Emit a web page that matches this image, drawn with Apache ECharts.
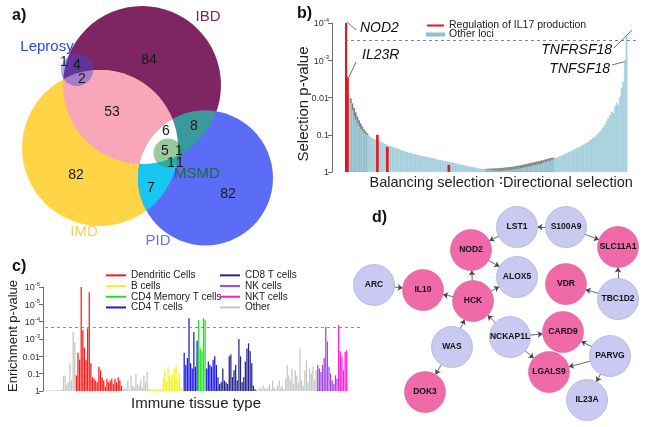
<!DOCTYPE html>
<html><head><meta charset="utf-8">
<script src="https://cdn.jsdelivr.net/npm/echarts@6/dist/echarts.min.js"></script>
<style>html,body{margin:0;padding:0;background:#fff}#c{width:647px;height:427px}</style>
</head><body><div id="c"></div>
<script>
// ===== Panel a: Venn diagram =====
const vennSets = ['IBD', 'IMD', 'PID', 'Leprosy', 'MSMD'];
const vennCenterX = [142, 100, 205.5, 77, 168];
const vennCenterY = [85, 148, 178, 70, 153];
const vennRadius = [79, 78, 67.5, 16, 14.5];
const vennRegions = [['IBD', 'IMD'], ['IBD', 'PID'], ['IMD', 'PID'], ['IBD', 'IMD', 'PID']];
const vennCounts = [84, 53, 82, 82, 8, 6, 5, 1, 1, 1, 7, 1, 4, 2];
const vennCountX = [149, 112, 76, 228, 194, 166, 165, 179, 171, 180, 151, 64, 77, 82];
const vennCountY = [60, 112, 175, 194, 126, 131, 151, 151, 163, 163, 188, 62, 65, 79];
const vennSetLabelX = [208, 84, 158, 47, 197];
const vennSetLabelY = [17, 232, 241, 47, 174];

// ===== Panel b: selection p-values (-log10 p) =====
const selectionNegLog10P = [
  4.0, 2.55, 2.08, 1.86, 1.66, 1.5, 1.4, 1.31, 1.23, 1.16,
  1.11, 1.06, 1.03, 0.99, 0.97, 0.93, 0.91, 0.88, 0.86, 0.85,
  0.82, 0.8, 0.79, 0.76, 0.75, 0.72, 0.7, 0.69, 0.67, 0.65,
  0.64, 0.62, 0.61, 0.59, 0.58, 0.56, 0.55, 0.53, 0.52, 0.51,
  0.49, 0.48, 0.47, 0.46, 0.45, 0.44, 0.43, 0.42, 0.41, 0.4,
  0.39, 0.38, 0.37, 0.36, 0.35, 0.34, 0.33, 0.32, 0.31, 0.3,
  0.29, 0.28, 0.27, 0.26, 0.25, 0.245, 0.235, 0.225, 0.215, 0.2,
  0.19, 0.18, 0.175, 0.165, 0.155, 0.145, 0.135, 0.125, 0.115, 0.105,
  0.095, 0.09, 0.085, 0.075, 0.07, 0.065, 0.06, 0.055, 0.05, 0.045,
  0.04, 0.035, 0.03,
  0.03, 0.035, 0.04, 0.045, 0.05, 0.055, 0.06,
  0.065, 0.07, 0.08, 0.085, 0.09, 0.1, 0.11, 0.12, 0.13, 0.14,
  0.15, 0.16, 0.17, 0.18, 0.19, 0.2, 0.21, 0.22, 0.24, 0.25,
  0.27, 0.28, 0.3, 0.31, 0.33, 0.34, 0.36, 0.38, 0.4, 0.42,
  0.44, 0.46, 0.48, 0.5, 0.52, 0.55, 0.57, 0.59, 0.61, 0.64,
  0.66, 0.68, 0.71, 0.73, 0.76, 0.78, 0.81, 0.85, 0.88, 0.92,
  0.95, 0.99, 1.04, 1.08, 1.14, 1.2, 1.27, 1.36, 1.44, 1.52,
  1.62, 1.58, 1.76, 1.86, 1.8, 2.02, 2.24, 2.42, 3.0, 3.65
];
const il17LocusIndex = [0, 1, 19, 25, 62];
const il17NegLog10P = [4.0, 2.55, 1.0, 0.67, 0.19];
const expectedLeftStart = 3;
const expectedLeft = [1.98, 1.84, 1.72, 1.6, 1.49, 1.39, 1.3, 1.22, 1.15, 1.09, 1.04];
const expectedRightStart = 84;
const expectedRight = [
  0.085, 0.085, 0.09, 0.09, 0.095, 0.095, 0.1, 0.1, 0.105, 0.11,
  0.11, 0.115, 0.12, 0.125, 0.13, 0.135, 0.14, 0.15, 0.155, 0.165,
  0.17, 0.18, 0.19, 0.2, 0.21, 0.22, 0.23, 0.24, 0.25, 0.26,
  0.27, 0.28, 0.29, 0.3, 0.31, 0.32, 0.335, 0.345, 0.36, 0.37,
  0.38, 0.39
];
const selectionThreshold = 3.54;
const selectionTickLabels = ['1', '0.1', '0.01', '10^-3', '10^-4'];
const selectionGenes = ['NOD2', 'IL23R', 'TNFRSF18', 'TNFSF18'];

// ===== Panel c: enrichment p-values by immune tissue (-log10 p) =====
const tissueGroups = ['Dendritic Cells', 'B cells', 'CD4 Memory T cells', 'CD4 T cells', 'CD8 T cells', 'NK cells', 'NKT cells', 'Other'];
const tissueSegmentGroup = ['Other', 'Dendritic Cells', 'Other', 'B cells', 'CD4 T cells', 'CD4 Memory T cells', 'CD4 T cells', 'CD8 T cells', 'Other', 'NK cells', 'NKT cells'];
const tissueSegmentValues = [
  [0.03, 0.04, 0.03, 0.05, 0.04, 0.03, 0.05, 0.04, 0.06, 0.05, 0.07, 0.85, 0.9, 0.35, 0.5, 1.6, 0.6, 3.4, 2.8],
  [0.9, 2.2, 1.8, 6.05, 3.5, 2.5, 1.8, 3.6, 5.7, 1.6, 0.8, 0.7, 0.6, 0.5, 1.4, 1.2, 0.8, 0.6, 0.25, 0.7, 0.5, 0.6, 0.7, 0.4, 0.7, 0.5, 0.8, 0.6, 0.3],
  [0.1, 0.2, 0.15, 0.6, 0.1, 0.9, 0.3, 0.2, 1.0, 0.4, 0.3, 0.6, 0.2, 0.9, 0.5, 1.1, 0.15],
  [0.1, 0.08, 0.1, 0.12, 0.1, 0.08, 0.1, 0.12, 0.8, 1.2, 0.6, 1.4, 0.9, 0.7, 1.0, 1.3, 1.5, 0.8, 1.0, 0.2, 0.05],
  [2.2, 1.5, 1.9, 4.2, 1.6, 1.3, 3.4, 1.4, 2.9],
  [4.1, 2.45, 2.3, 4.2, 4.1],
  [1.3, 1.7, 1.5, 1.4, 1.8, 2.0, 1.5],
  [0.8, 0.4, 0.5, 1.3, 0.6, 0.5, 0.4, 2.0, 2.1, 0.8, 1.2, 1.5, 0.6, 3.0, 2.0, 0.5, 0.8, 1.7, 2.45, 2.75, 2.3, 1.6, 0.3, 0.1],
  [0.1, 0.05, 0.2, 0.1, 0.3, 0.15, 0.1, 0.2, 0.4, 0.1, 0.6, 0.2, 0.1, 0.3, 0.6, 0.2, 0.3, 0.1, 0.7, 1.5, 0.9, 0.6, 1.3, 0.4, 1.2, 0.9, 0.5, 2.45, 0.6, 0.3, 1.2, 1.75, 0.5, 1.3, 1.0, 1.4, 0.6, 1.2],
  [1.5, 1.3, 1.1, 1.5, 1.9, 3.7, 2.85, 1.4, 1.0, 0.6, 0.4, 0.9, 0.7],
  [3.8, 2.3, 2.0, 1.2, 2.25, 2.35]
];
const enrichmentThreshold = 3.66;
const enrichmentTickLabels = ['1', '0.1', '0.01', '10^-3', '10^-4', '10^-5', '10^-6'];

// ===== Panel d: gene network =====
const geneNames = ['LST1', 'S100A9', 'SLC11A1', 'NOD2', 'ALOX5', 'VDR', 'TBC1D2', 'ARC', 'IL10', 'HCK', 'NCKAP1L', 'CARD9', 'WAS', 'PARVG', 'LGALS9', 'DOK3', 'IL23A'];
const geneIL17 = [0, 0, 1, 1, 0, 1, 0, 0, 1, 1, 0, 1, 0, 0, 1, 1, 0];
const geneLayoutX = [517, 566, 618, 471, 517, 566, 618, 374, 423, 473, 510, 563, 452, 610, 549, 425, 587];
const geneLayoutY = [227, 227, 247, 250, 277, 284, 299, 285, 290, 301, 337, 332, 347, 356, 372, 392, 400];
const geneLinks = [
  ['S100A9', 'LST1'], ['LST1', 'NOD2'], ['S100A9', 'SLC11A1'], ['NOD2', 'ALOX5'], ['HCK', 'NOD2'],
  ['HCK', 'ALOX5'], ['ARC', 'IL10'], ['HCK', 'IL10'], ['TBC1D2', 'SLC11A1'], ['TBC1D2', 'VDR'],
  ['WAS', 'HCK'], ['NCKAP1L', 'HCK'], ['WAS', 'DOK3'], ['NCKAP1L', 'CARD9'], ['NCKAP1L', 'LGALS9'],
  ['PARVG', 'CARD9'], ['PARVG', 'LGALS9'], ['PARVG', 'IL23A']
];

// ===== styles =====
const F = "'Liberation Sans', Arial, Helvetica, sans-serif";
const vennFill = {IBD: '#7e2563', IMD: '#ffd447', PID: '#5b6cf6', Leprosy: 'rgba(60,70,225,0.45)', MSMD: 'rgba(50,150,60,0.5)'};
const vennRegionFill = ['#f8a6b8', '#3a9a9b', '#17c6f2', '#ffffff'];
const vennLabelColor = ['#7e2563', '#f8cf5c', '#6676f2', '#2f46e6', '#1f6a3a'];
const tissueColors = {'Dendritic Cells': '#ff1a1a', 'B cells': '#f4f421', 'CD4 Memory T cells': '#22e022', 'CD4 T cells': '#1a1ae6', 'CD8 T cells': '#23238a', 'NK cells': '#a443ea', 'NKT cells': '#ff1ad9', 'Other': '#c6c6c6'};

function tickRich(label) {
  const p = label.split('^');
  return p.length > 1 ? '{b|' + p[0] + '}{s|' + p[1] + '}' : '{b|' + p[0] + '}';
}
const tickRichStyle = {
  b: {fontSize: 9, color: '#333', fontFamily: F, verticalAlign: 'bottom', lineHeight: 11},
  s: {fontSize: 6, color: '#333', fontFamily: F, verticalAlign: 'bottom', padding: [0, 0, 5, 0], lineHeight: 11}
};

function setIndex(name) { return vennSets.indexOf(name); }
function intersectionPolygon(members) {
  const pts = [];
  members.forEach(i => {
    for (let k = 0; k < 720; k++) {
      const a = k * Math.PI / 360;
      const x = vennCenterX[i] + vennRadius[i] * Math.cos(a);
      const y = vennCenterY[i] + vennRadius[i] * Math.sin(a);
      if (members.every(j => j === i || Math.hypot(x - vennCenterX[j], y - vennCenterY[j]) <= vennRadius[j] + 1e-6)) pts.push([x, y]);
    }
  });
  let mx = 0, my = 0;
  pts.forEach(p => { mx += p[0]; my += p[1]; });
  mx /= pts.length; my /= pts.length;
  pts.sort((p, q) => Math.atan2(p[1] - my, p[0] - mx) - Math.atan2(q[1] - my, q[0] - mx));
  return pts;
}
function circleItem(idx, api) {
  const c = api.coord([vennCenterX[idx], vennCenterY[idx]]);
  const r = api.size([vennRadius[idx], 0])[0];
  return {type: 'circle', shape: {cx: c[0], cy: c[1], r: r}, style: {fill: vennFill[vennSets[idx]]}};
}

// ===== panel b data =====
const bCategories = Array.from({length: selectionNegLog10P.length + 7}, (_, i) => 'locus ' + (i + 1));
const il17Data = il17LocusIndex.map((c, i) => [c, il17NegLog10P[i]]);
const expectedData = expectedLeft.map((v, i) => [expectedLeftStart + i, v]).concat(expectedRight.map((v, i) => [expectedRightStart + i, v]));

// ===== panel c data =====
const tissueTotal = tissueSegmentValues.reduce((s, a) => s + a.length, 0);
const cCategories = Array.from({length: tissueTotal + 9}, (_, i) => 'tissue ' + (i + 1));
const tissueBarData = [];
tissueSegmentValues.forEach((vals, s) => {
  vals.forEach(v => tissueBarData.push({value: v, itemStyle: {color: tissueColors[tissueSegmentGroup[s]]}}));
});
// legend-only entries for tissue groups
const tissueLegendSeries = tissueGroups.map(g => ({
  name: g, type: 'line', xAxisIndex: 2, yAxisIndex: 2, data: [],
  itemStyle: {color: tissueColors[g]}, lineStyle: {color: tissueColors[g]}
}));

// ===== panel d data =====
const nodeData = geneNames.map((n, i) => ({
  name: n, value: [geneLayoutX[i], geneLayoutY[i]],
  itemStyle: {color: geneIL17[i] ? '#f06aa8' : '#c9c9f2', borderColor: geneIL17[i] ? '#d9609a' : '#a5a5cf', borderWidth: 0.6}
}));
const linkData = geneLinks.map(l => ({source: l[0], target: l[1]}));

const option = {
  animation: false,
  backgroundColor: '#fff',
  grid: [
    {left: 0, top: 0, width: 647, height: 427},
    {left: 345, top: 23, width: 294, height: 149},
    {left: 45, top: 287, width: 317, height: 104}
  ],
  xAxis: [
    {gridIndex: 0, type: 'value', min: 0, max: 647, show: false},
    {gridIndex: 1, type: 'category', data: bCategories, show: false},
    {gridIndex: 2, type: 'category', data: cCategories, show: false},
    {gridIndex: 1, type: 'category', data: bCategories, show: false},
    {gridIndex: 1, type: 'category', data: bCategories, show: false}
  ],
  yAxis: [
    {gridIndex: 0, type: 'value', min: 0, max: 427, inverse: true, show: false},
    {gridIndex: 1, type: 'value', min: 0, max: 4, interval: 1, offset: 13,
      axisLine: {show: true, lineStyle: {color: '#444', width: 0.8}},
      axisTick: {show: true, length: 4, lineStyle: {color: '#444', width: 0.8}},
      splitLine: {show: false},
      axisLabel: {margin: 3, formatter: v => tickRich(selectionTickLabels[v]), rich: tickRichStyle}},
    {gridIndex: 2, type: 'value', min: 0, max: 6, interval: 1, offset: 2,
      axisLine: {show: true, lineStyle: {color: '#444', width: 0.8}},
      axisTick: {show: true, length: 4, lineStyle: {color: '#444', width: 0.8}},
      splitLine: {show: false},
      axisLabel: {margin: 3, formatter: v => tickRich(enrichmentTickLabels[v]), rich: tickRichStyle}}
  ],
  legend: [
    {data: ['Regulation of IL17 production', 'Other loci'], orient: 'vertical', left: 421, top: 15,
      itemWidth: 17, itemHeight: 2, itemGap: -2, icon: 'rect',
      textStyle: {fontSize: 10.5, color: '#222', fontFamily: F, lineHeight: 11}, selectedMode: false},
    {data: tissueGroups.slice(0, 4), orient: 'vertical', left: 101, top: 265,
      itemWidth: 20, itemHeight: 2, itemGap: 0, icon: 'rect',
      textStyle: {fontSize: 10, color: '#222', fontFamily: F, lineHeight: 10.7}, selectedMode: false},
    {data: tissueGroups.slice(4), orient: 'vertical', left: 215, top: 265,
      itemWidth: 20, itemHeight: 2, itemGap: 0, icon: 'rect',
      textStyle: {fontSize: 10, color: '#222', fontFamily: F, lineHeight: 10.7}, selectedMode: false}
  ],
  series: [
    // Venn main circles
    {type: 'custom', xAxisIndex: 0, yAxisIndex: 0, z: 1, silent: true,
      data: [[0, 0], [1, 0], [2, 0]],
      renderItem: (params, api) => circleItem(params.dataIndex, api)},
    // Venn overlaps
    {type: 'custom', xAxisIndex: 0, yAxisIndex: 0, z: 2, silent: true,
      data: vennRegions.map((r, i) => [i, 0]),
      renderItem: (params, api) => {
        const members = vennRegions[params.dataIndex].map(setIndex);
        const pts = intersectionPolygon(members).map(p => api.coord(p));
        return {type: 'polygon', shape: {points: pts}, style: {fill: vennRegionFill[params.dataIndex]}};
      }},
    // small translucent sets
    {type: 'custom', xAxisIndex: 0, yAxisIndex: 0, z: 3, silent: true,
      data: [[3, 0], [4, 0]],
      renderItem: (params, api) => circleItem(3 + params.dataIndex, api)},
    // Venn counts
    {type: 'custom', xAxisIndex: 0, yAxisIndex: 0, z: 4, silent: true,
      data: vennCounts.map((c, i) => [vennCountX[i], vennCountY[i]]),
      renderItem: (params, api) => {
        const p = api.coord([api.value(0), api.value(1)]);
        return {type: 'text', x: p[0], y: p[1], style: {text: String(vennCounts[params.dataIndex]), fill: '#1a1a1a',
          font: '14px ' + F, align: 'center', verticalAlign: 'middle', textAlign: 'center', textVerticalAlign: 'middle'}};
      }},
    // Venn set names
    {type: 'custom', xAxisIndex: 0, yAxisIndex: 0, z: 4, silent: true,
      data: vennSets.map((s, i) => [vennSetLabelX[i], vennSetLabelY[i]]),
      renderItem: (params, api) => {
        const p = api.coord([api.value(0), api.value(1)]);
        return {type: 'text', x: p[0], y: p[1], style: {text: vennSets[params.dataIndex], fill: vennLabelColor[params.dataIndex],
          font: '15px ' + F, align: 'center', verticalAlign: 'middle', textAlign: 'center', textVerticalAlign: 'middle'}};
      }},
    // Panel b
    {name: 'expected', type: 'bar', xAxisIndex: 3, yAxisIndex: 1, data: expectedData,
      barWidth: '100%', itemStyle: {color: '#7d7d7d'}, z: 1, silent: true},
    {name: 'Other loci', type: 'bar', xAxisIndex: 1, yAxisIndex: 1, data: selectionNegLog10P,
      barWidth: '100%', itemStyle: {color: '#abd5e3', borderColor: '#8cbfcf', borderWidth: 0.35}, z: 2, silent: true,
      markLine: {silent: true, symbol: 'none', label: {show: false},
        lineStyle: {type: [3, 3], color: '#666', width: 0.8}, data: [{yAxis: selectionThreshold}]}},
    {name: 'Regulation of IL17 production', type: 'bar', xAxisIndex: 4, yAxisIndex: 1, data: il17Data,
      barWidth: 2.6, itemStyle: {color: '#e8141a'}, z: 3, silent: true},
    // Panel c
    {name: 'tissues', type: 'bar', xAxisIndex: 2, yAxisIndex: 2, data: tissueBarData,
      barWidth: '78%', silent: true, z: 3,
      markLine: {silent: true, symbol: 'none', label: {show: false},
        lineStyle: {type: [3, 3], color: '#777', width: 0.8}, data: [{yAxis: enrichmentThreshold}]}},
    ...tissueLegendSeries,
    // Panel d
    {type: 'graph', coordinateSystem: 'cartesian2d', xAxisIndex: 0, yAxisIndex: 0, layout: 'none',
      symbol: 'circle', symbolSize: 41, z: 5, silent: true,
      data: nodeData, links: linkData,
      edgeSymbol: ['none', 'arrow'], edgeSymbolSize: [0, 5],
      lineStyle: {color: '#444', width: 0.8, opacity: 1, curveness: 0},
      label: {show: true, position: 'inside', color: '#111', fontSize: 8.5, fontWeight: 'bold', fontFamily: F}}
  ],
  graphic: [
    {type: 'text', x: 12, y: 16, style: {text: 'a)', font: 'bold 16px ' + F, fill: '#111', verticalAlign: 'middle', textVerticalAlign: 'middle'}},
    {type: 'text', x: 297, y: 14, style: {text: 'b)', font: 'bold 16px ' + F, fill: '#111', verticalAlign: 'middle', textVerticalAlign: 'middle'}},
    {type: 'text', x: 12, y: 267, style: {text: 'c)', font: 'bold 16px ' + F, fill: '#111', verticalAlign: 'middle', textVerticalAlign: 'middle'}},
    {type: 'text', x: 372, y: 218, style: {text: 'd)', font: 'bold 16px ' + F, fill: '#111', verticalAlign: 'middle', textVerticalAlign: 'middle'}},
    // panel b axis titles
    {type: 'text', x: 304, y: 104, rotation: Math.PI / 2, style: {text: 'Selection p-value', font: '15px ' + F, fill: '#222',
      align: 'center', verticalAlign: 'middle', textAlign: 'center', textVerticalAlign: 'middle'}},
    {type: 'text', x: 432, y: 183, style: {text: 'Balancing selection', font: '14.5px ' + F, fill: '#222',
      align: 'center', verticalAlign: 'middle', textAlign: 'center', textVerticalAlign: 'middle'}},
    {type: 'text', x: 501, y: 181, style: {text: ':', font: 'bold 12px ' + F, fill: '#222',
      align: 'center', verticalAlign: 'middle', textAlign: 'center', textVerticalAlign: 'middle'}},
    {type: 'text', x: 568, y: 183, style: {text: 'Directional selection', font: '14.5px ' + F, fill: '#222',
      align: 'center', verticalAlign: 'middle', textAlign: 'center', textVerticalAlign: 'middle'}},
    // panel b gene annotations
    {type: 'text', x: 360, y: 28, style: {text: selectionGenes[0], font: 'italic 14px ' + F, fill: '#111', verticalAlign: 'middle', textVerticalAlign: 'middle'}},
    {type: 'line', shape: {x1: 347, y1: 22, x2: 356, y2: 30}, style: {stroke: '#333', lineWidth: 0.7}},
    {type: 'text', x: 362, y: 55, style: {text: selectionGenes[1], font: 'italic 14px ' + F, fill: '#111', verticalAlign: 'middle', textVerticalAlign: 'middle'}},
    {type: 'line', shape: {x1: 349, y1: 77, x2: 356, y2: 62}, style: {stroke: '#333', lineWidth: 0.7}},
    {type: 'text', x: 612, y: 50, style: {text: selectionGenes[2], font: 'italic 14px ' + F, fill: '#111', align: 'right', textAlign: 'right', verticalAlign: 'middle', textVerticalAlign: 'middle'}},
    {type: 'line', shape: {x1: 614, y1: 48, x2: 632, y2: 30}, style: {stroke: '#333', lineWidth: 0.7}},
    {type: 'text', x: 610, y: 69, style: {text: selectionGenes[3], font: 'italic 14px ' + F, fill: '#111', align: 'right', textAlign: 'right', verticalAlign: 'middle', textVerticalAlign: 'middle'}},
    {type: 'line', shape: {x1: 612, y1: 65, x2: 627, y2: 61}, style: {stroke: '#333', lineWidth: 0.7}},
    // panel c axis titles
    {type: 'text', x: 13, y: 336, rotation: Math.PI / 2, style: {text: 'Enrichment p-value', font: '13px ' + F, fill: '#222',
      align: 'center', verticalAlign: 'middle', textAlign: 'center', textVerticalAlign: 'middle'}},
    {type: 'text', x: 196, y: 404, style: {text: 'Immune tissue type', font: '15px ' + F, fill: '#222',
      align: 'center', verticalAlign: 'middle', textAlign: 'center', textVerticalAlign: 'middle'}}
  ]
};

const chart = echarts.init(document.getElementById('c'));
chart.setOption(option);
</script>
</body></html>
